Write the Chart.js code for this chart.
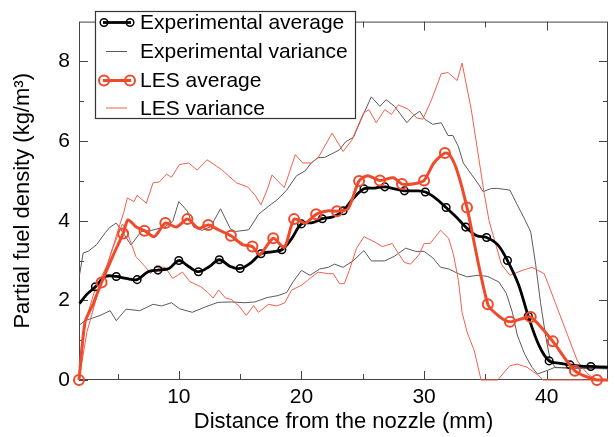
<!DOCTYPE html>
<html>
<head>
<meta charset="utf-8">
<script src="https://cdn.jsdelivr.net/npm/chart.js@4.4.1/dist/chart.umd.min.js"></script>
<style>
  html, body { margin: 0; padding: 0; background: #fff; }
  #wrap { width: 615px; height: 437px; }
</style>
</head>
<body>
<div id="wrap"><canvas id="fuel_chart" width="615" height="437"></canvas></div>
<script>
// Experimental average (black line, open circles)
const expAvgX = [1.9, 2.5, 3.2, 4.0, 4.9, 5.7, 6.6, 7.5, 8.3, 9.2, 10.0, 10.8, 11.6, 12.5, 13.3, 14.2, 15.0, 15.9, 16.7, 17.6, 18.4, 19.2, 20.0, 20.9, 21.7, 22.6, 23.4, 24.2, 25.1, 26.0, 26.8, 27.6, 28.4, 29.3, 30.1, 31.0, 31.8, 32.6, 33.4, 34.3, 35.1, 36.0, 36.8, 37.7, 38.5, 39.4, 40.2, 41.1, 41.9, 42.8, 43.6, 45.0];
const expAvgY = [1.92, 2.15, 2.34, 2.6, 2.6, 2.55, 2.52, 2.72, 2.76, 2.8, 3.0, 2.85, 2.72, 2.85, 3.02, 2.85, 2.8, 2.95, 3.17, 3.22, 3.27, 3.55, 3.92, 3.95, 4.05, 4.1, 4.25, 4.55, 4.8, 4.82, 4.85, 4.8, 4.75, 4.75, 4.72, 4.55, 4.33, 4.1, 3.84, 3.62, 3.58, 3.4, 3.0, 2.4, 1.6, 0.85, 0.48, 0.42, 0.38, 0.35, 0.34, 0.32];
const expAvgMarks = [3.2, 4.9, 6.6, 8.3, 10.0, 11.6, 13.3, 15.0, 16.7, 18.4, 20.0, 21.7, 23.4, 25.1, 26.8, 28.4, 30.1, 31.8, 33.4, 35.1, 36.8, 38.5, 40.2, 41.9, 43.6];

// Experimental variance (thin grey, upper and lower)
const expVarUpX = [1.9, 2.2, 2.6, 3.3, 4.0, 4.4, 4.9, 5.4, 6.1, 6.9, 7.8, 8.8, 9.5, 10.0, 10.7, 11.2, 11.9, 12.6, 13.4, 14.2, 14.6, 15.7, 16.5, 17.3, 18.0, 18.8, 19.6, 20.3, 20.8, 21.35, 21.9, 22.6, 23.1, 23.6, 24.25, 25.05, 25.7, 26.4, 26.9, 27.6, 28.6, 29.1, 29.65, 30.05, 30.7, 31.4, 31.95, 32.35, 32.8, 33.2, 33.85, 34.5, 34.8, 35.5, 36.0, 37.0, 37.6, 38.2, 38.7, 39.1, 39.5, 39.9, 40.3, 40.7, 41.5, 45.0];
const expVarUpY = [2.63, 3.19, 3.23, 3.4, 3.7, 3.84, 3.94, 3.72, 3.39, 3.72, 3.76, 3.84, 3.98, 4.48, 4.24, 3.84, 3.76, 3.85, 4.3, 3.8, 3.73, 3.77, 4.16, 4.36, 4.52, 4.77, 5.13, 5.25, 5.45, 5.58, 5.59, 5.7, 5.78, 5.98, 6.1, 6.67, 7.11, 6.87, 7.04, 6.87, 6.46, 6.63, 6.75, 6.55, 6.42, 6.46, 6.14, 6.14, 5.86, 5.45, 5.17, 4.89, 4.73, 4.81, 4.81, 4.77, 4.4, 4.04, 3.72, 2.9, 1.94, 1.13, 0.48, 0.32, 0.3, 0.28];
const expVarLoX = [1.9, 2.35, 3.57, 4.4, 4.9, 5.7, 6.8, 7.9, 8.6, 9.4, 10.05, 11.1, 12.2, 13.2, 14.3, 15.4, 16.2, 17.2, 18.1, 18.8, 19.3, 20.0, 20.7, 21.5, 22.2, 22.7, 23.4, 24.2, 25.1, 25.7, 26.8, 27.6, 28.5, 29.3, 30.0, 30.7, 31.35, 32.0, 32.8, 33.5, 34.4, 35.2, 36.1, 36.7, 37.2, 37.6, 38.2, 38.8, 39.25, 40.05, 40.6, 45.0];
const expVarLoY = [1.38, 1.49, 1.62, 1.74, 1.49, 1.78, 1.74, 1.9, 1.86, 1.94, 1.79, 1.7, 1.84, 1.95, 1.96, 1.94, 1.96, 2.07, 2.12, 2.2, 2.46, 2.75, 2.63, 2.79, 2.83, 2.91, 2.83, 2.99, 3.25, 2.99, 2.99, 3.11, 3.31, 3.23, 3.23, 3.07, 2.83, 2.79, 2.67, 2.59, 2.63, 2.6, 2.46, 2.18, 1.7, 1.13, 0.65, 0.32, 0.15, 0.24, 0.31, 0.3];

// LES average (thick red, big open circles)
const lesAvgX = [1.86, 2.35, 3.0, 3.7, 4.6, 5.46, 5.86, 6.5, 7.2, 8.0, 8.9, 9.8, 10.7, 11.6, 12.4, 13.3, 14.25, 15.2, 16.0, 16.6, 17.7, 18.6, 19.4, 20.3, 21.2, 22.2, 22.9, 23.8, 24.7, 25.4, 26.4, 27.5, 28.2, 29.2, 30.0, 30.8, 31.7, 32.1, 32.7, 33.5, 35.2, 36.2, 37.0, 37.9, 38.7, 40.5, 42.3, 44.1, 45.0];
const lesAvgY = [0, 1.45, 1.9, 2.45, 3.1, 3.68, 4.02, 3.85, 3.75, 3.6, 3.94, 3.84, 4.04, 3.81, 3.89, 3.76, 3.62, 3.4, 3.35, 3.15, 3.56, 3.33, 4.04, 3.94, 4.16, 4.25, 4.24, 4.3, 5.0, 5.13, 5.01, 5.08, 4.92, 4.93, 5.01, 5.45, 5.7, 5.65, 5.25, 4.33, 1.9, 1.58, 1.46, 1.53, 1.58, 0.97, 0.23, 0, 0];
const lesAvgMarks = [1.86, 3.7, 5.46, 7.2, 8.9, 10.7, 12.4, 14.25, 16.0, 17.7, 19.4, 21.2, 22.9, 24.7, 26.4, 28.2, 30.0, 31.7, 33.5, 35.2, 37.0, 38.7, 40.5, 42.3, 44.1];

// LES variance (thin red, upper and lower)
const lesVarUpX = [1.86, 2.4, 3.2, 4.2, 5.0, 5.5, 5.8, 6.35, 6.6, 7.35, 7.9, 8.4, 9.0, 9.4, 10.05, 10.8, 11.5, 12.3, 12.7, 13.5, 14.7, 15.6, 16.2, 16.7, 17.2, 17.6, 17.9, 18.6, 19.5, 20.1, 20.8, 21.4, 22.5, 23.4, 24.1, 25.05, 25.5, 26.1, 26.8, 27.35, 27.9, 28.7, 29.4, 29.9, 30.6, 31.4, 31.95, 32.7, 33.1, 33.85, 34.9, 35.3, 36.3, 37.0, 38.0, 38.8, 39.8, 40.7, 41.7, 42.5, 43.3, 44.1, 45.0];
const lesVarUpY = [0, 1.5, 2.3, 2.91, 3.72, 4.2, 4.57, 4.48, 4.64, 4.44, 4.95, 4.97, 5.17, 5.09, 5.41, 5.45, 5.27, 5.53, 5.45, 5.28, 4.95, 4.85, 4.65, 4.4, 4.77, 5.15, 5.05, 4.83, 5.66, 5.45, 5.45, 5.6, 6.2, 5.74, 6.02, 6.7, 6.79, 6.46, 6.79, 6.67, 6.91, 6.8, 6.58, 6.55, 7.03, 7.69, 7.72, 7.52, 7.96, 6.79, 4.69, 4.0, 2.91, 2.63, 2.75, 2.83, 2.67, 1.94, 1.13, 0.48, 0.16, 0, 0];
const lesVarLoX = [1.86, 2.5, 3.5, 4.6, 5.4, 5.8, 6.5, 7.3, 7.7, 8.1, 8.9, 9.5, 10.3, 10.9, 11.8, 12.35, 12.8, 13.25, 13.8, 14.3, 14.9, 15.5, 16.1, 16.5, 17.3, 18.0, 18.65, 19.2, 20.0, 20.5, 21.35, 22.2, 22.6, 23.1, 23.5, 23.9, 24.5, 25.1, 25.95, 26.6, 27.4, 27.8, 28.4, 28.9, 29.6, 30.0, 30.5, 31.35, 32.0, 32.4, 32.8, 33.1, 33.5, 34.1, 34.65, 36.0, 37.0, 37.6, 38.4, 39.3, 39.7, 45.0];
const lesVarLoY = [0, 1.2, 2.3, 3.3, 3.92, 3.7, 3.1, 2.83, 2.67, 2.83, 2.83, 2.55, 2.71, 2.47, 2.34, 2.2, 2.06, 2.26, 2.06, 2.02, 1.86, 1.62, 1.87, 1.7, 1.9, 1.86, 1.94, 2.26, 2.38, 2.5, 2.71, 2.67, 2.67, 2.42, 2.42, 2.75, 3.31, 3.6, 3.47, 3.35, 3.43, 3.23, 2.95, 2.91, 3.15, 3.43, 3.43, 3.76, 3.56, 3.15, 2.5, 1.7, 1.21, 0.73, 0, 0, 0.36, 0.4, 0.32, 0.12, 0, 0];

// Axis ticks
const xMajorTicks = [10, 20, 30, 40];
const xMinorTicks = [5, 15, 25, 35];
const yMajorTicks = [0, 2, 4, 6, 8];
const yMinorTicks = [1, 3, 5, 7];

const FONT = "'Liberation Sans', Arial, Helvetica, sans-serif";
const RED = "#ef4a2c";

function points(xs, ys) {
  return xs.map((x, i) => ({ x, y: ys[i] }));
}

function markerRadius(marks, radius) {
  return ctx => (ctx.raw && marks.includes(ctx.raw.x)) ? radius : 0;
}

// Box around the plot with inward ticks on all four sides
const frame = {
  id: "frame",
  beforeDatasetsDraw(chart) {
    const { ctx, chartArea: a, scales } = chart;
    ctx.save();
    ctx.strokeStyle = "#444";
    ctx.lineWidth = 1;
    ctx.strokeRect(a.left + 0.5, a.top + 0.5, a.right - a.left - 1, a.bottom - a.top - 1);
    ctx.beginPath();
    const xt = (v, len) => {
      const px = Math.round(scales.x.getPixelForValue(v)) + 0.5;
      ctx.moveTo(px, a.bottom); ctx.lineTo(px, a.bottom - len);
      ctx.moveTo(px, a.top); ctx.lineTo(px, a.top + len);
    };
    const yt = (v, len) => {
      const py = Math.round(scales.y.getPixelForValue(v)) + 0.5;
      ctx.moveTo(a.left, py); ctx.lineTo(a.left + len, py);
      ctx.moveTo(a.right, py); ctx.lineTo(a.right - len, py);
    };
    xMajorTicks.forEach(v => xt(v, 9));
    xMinorTicks.forEach(v => xt(v, 6));
    yMajorTicks.forEach(v => yt(v, 9));
    yMinorTicks.forEach(v => yt(v, 5));
    ctx.stroke();
    ctx.restore();
  }
};

// Boxed legend in the upper left corner
const boxLegend = {
  id: "boxLegend",
  afterDatasetsDraw(chart) {
    const { ctx } = chart;
    const left = 95, top = 11, width = 260, height = 107;
    ctx.save();
    ctx.fillStyle = "#fff";
    ctx.fillRect(left, top, width, height);
    ctx.strokeStyle = "#333";
    ctx.lineWidth = 1.2;
    ctx.strokeRect(left + 0.5, top + 0.5, width, height);
    ctx.font = "21px " + FONT;
    ctx.textBaseline = "middle";
    const rows = [22.5, 51.5, 80.5, 108];
    chart.data.datasets.filter(d => d.legendRow !== undefined).forEach(d => {
      const y = rows[d.legendRow];
      ctx.strokeStyle = d.borderColor;
      ctx.lineWidth = d.borderWidth;
      ctx.beginPath();
      if (d.legendMarker) {
        ctx.moveTo(103, y); ctx.lineTo(131, y);
        ctx.stroke();
        ctx.lineWidth = d.pointBorderWidth;
        [104, 130].forEach(cx => {
          ctx.beginPath();
          ctx.arc(cx, y, d.legendMarker, 0, Math.PI * 2);
          ctx.stroke();
        });
      } else {
        ctx.moveTo(106, y); ctx.lineTo(127, y);
        ctx.stroke();
      }
      ctx.fillStyle = "#000";
      ctx.fillText(d.label, 140, y + 1);
    });
    ctx.restore();
  }
};

const context = document.getElementById("fuel_chart").getContext("2d");

new Chart(context, {
  type: "line",
  data: {
    datasets: [
      {
        label: "LES average",
        data: points(lesAvgX, lesAvgY),
        borderColor: RED,
        borderWidth: 3,
        tension: 0.25,
        pointRadius: markerRadius(lesAvgMarks, 5),
        pointBorderWidth: 2,
        pointBorderColor: RED,
        pointBackgroundColor: "rgba(0,0,0,0)",
        legendRow: 2,
        legendMarker: 5,
        clip: false
      },
      {
        label: "Experimental average",
        data: points(expAvgX, expAvgY),
        borderColor: "#000",
        borderWidth: 2.8,
        tension: 0.35,
        pointRadius: markerRadius(expAvgMarks, 3.8),
        pointBorderWidth: 1.5,
        pointBorderColor: "#000",
        pointBackgroundColor: "rgba(0,0,0,0)",
        legendRow: 0,
        legendMarker: 3.8,
        clip: false
      },
      {
        label: "LES variance",
        data: points(lesVarUpX, lesVarUpY),
        borderColor: "#f0604c",
        borderWidth: 1,
        pointRadius: 0,
        legendRow: 3,
        clip: false
      },
      {
        label: "LES variance (lower)",
        data: points(lesVarLoX, lesVarLoY),
        borderColor: "#f0604c",
        borderWidth: 1,
        pointRadius: 0,
        clip: false
      },
      {
        label: "Experimental variance",
        data: points(expVarUpX, expVarUpY),
        borderColor: "#5a5a5a",
        borderWidth: 1,
        pointRadius: 0,
        legendRow: 1,
        clip: false
      },
      {
        label: "Experimental variance (lower)",
        data: points(expVarLoX, expVarLoY),
        borderColor: "#5a5a5a",
        borderWidth: 1,
        pointRadius: 0,
        clip: false
      }
    ]
  },
  options: {
    responsive: false,
    animation: false,
    layout: { padding: { top: 8, right: 5, left: 0, bottom: 0 } },
    plugins: { legend: { display: false }, tooltip: { enabled: false } },
    scales: {
      x: {
        type: "linear",
        min: 1.86,
        max: 45,
        afterBuildTicks: scale => { scale.ticks = xMajorTicks.map(value => ({ value })); },
        afterFit: scale => { scale.height = 57; },
        grid: { display: false, drawTicks: false },
        border: { display: false },
        ticks: { color: "#000", font: { family: FONT, size: 21 }, padding: 5, maxRotation: 0 },
        title: {
          display: true,
          text: "Distance from the nozzle (mm)",
          color: "#000",
          font: { family: FONT, size: 22 },
          padding: { top: 0, bottom: 2 }
        }
      },
      y: {
        min: 0,
        max: 9,
        afterBuildTicks: scale => { scale.ticks = yMajorTicks.map(value => ({ value })); },
        afterFit: scale => { scale.width = 79; },
        grid: { display: false, drawTicks: false },
        border: { display: false },
        ticks: { color: "#000", font: { family: FONT, size: 21 }, padding: 9 },
        title: {
          display: true,
          text: "Partial fuel density (kg/m³)",
          color: "#000",
          font: { family: FONT, size: 22 },
          padding: { top: 10, bottom: 0 }
        }
      }
    }
  },
  plugins: [frame, boxLegend]
});
</script>
</body>
</html>
